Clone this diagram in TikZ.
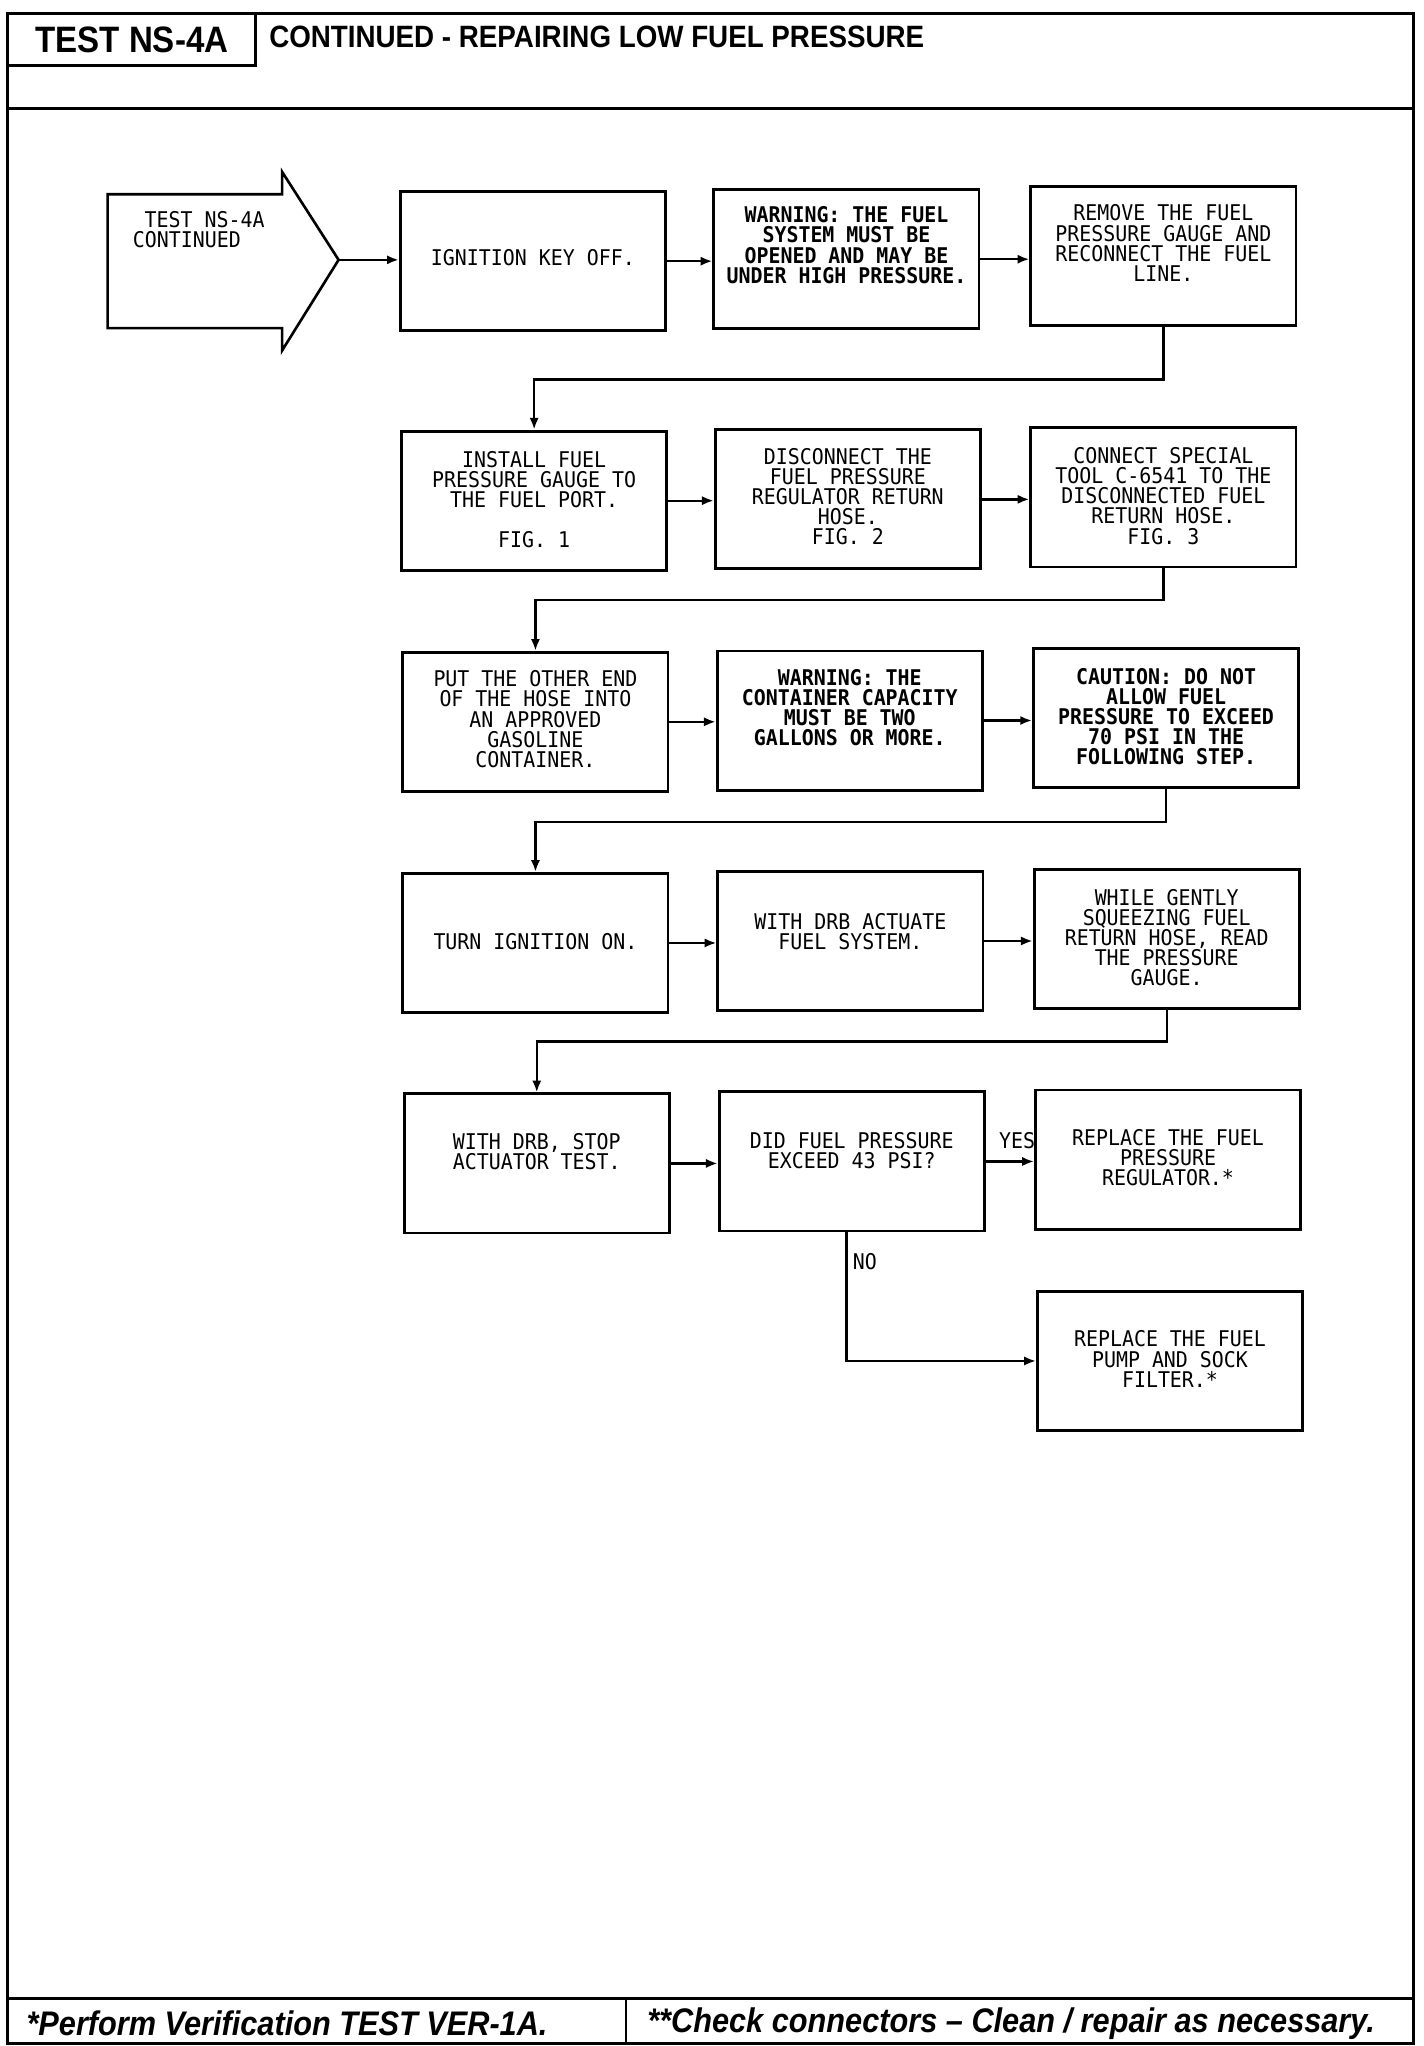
\documentclass[tikz,border=0pt]{standalone}
\usepackage{fontspec}
\newfontfamily\plotfont[FakeStretch=0.92]{DejaVu Sans Mono}
\newfontfamily\headfont[FakeStretch=0.9]{Liberation Sans}
\usetikzlibrary{positioning, arrows.meta}

\begin{document}
\begin{tikzpicture}[x=1pt, y=1pt,
    frame/.style={line width=2.2pt},
    stepbox/.style={rectangle, draw, line width=2.2pt, minimum width=202pt, minimum height=106pt, inner sep=0pt},
    steptext/.style={align=center, inner sep=0pt, font={\plotfont\fontsize{16.5}{15.3}\selectfont}},
    warntext/.style={steptext, font={\plotfont\bfseries\fontsize{16.5}{15.3}\selectfont}},
    arr/.style={line width=1.8pt, -{Latex[length=9pt, width=7pt]}}]
    \useasboundingbox (0,0) rectangle (1085,-1559);

    % page frame, header and footer
    \draw[frame] (6,-10) rectangle (1077,-1557);
    \draw[frame] (6,-83) -- (1077,-83);
    \draw[frame] (6,-1523) -- (1077,-1523);
    \draw[frame] (477,-1523) -- (477,-1557);
    \node[rectangle, draw, line width=2.2pt, minimum width=189pt, minimum height=40pt, inner sep=0pt,
        font={\headfont\bfseries\fontsize{28}{30}\selectfont}] at (100.5,-30) (testid) {TEST NS-4A};
    \node[anchor=west, inner sep=0pt, font={\headfont\bfseries\fontsize{23.5}{26}\selectfont}]
        at (205,-28) (title) {CONTINUED - REPAIRING LOW FUEL PRESSURE};
    \node[anchor=west, inner sep=0pt, font={\headfont\bfseries\itshape\fontsize{26}{28}\selectfont}]
        at (20,-1542) (noteone) {*Perform Verification TEST VER-1A.};
    \node[anchor=west, inner sep=0pt, font={\headfont\bfseries\itshape\fontsize{26}{28}\selectfont}]
        at (493,-1542) (notetwo) {**Check connectors – Clean / repair as necessary.};

    % entry arrow
    \draw[line width=2pt] (82,-148) -- (215,-148) -- (215,-131) -- (258,-198) -- (215,-267)
        -- (215,-250) -- (82,-250) -- cycle;
    \coordinate (start) at (258,-198);
    \node[steptext, align=left, anchor=north west] at (101,-161) (startlbl) {\hspace*{9pt}TEST NS-4A\\CONTINUED};

    % step boxes
    \node[stepbox] at (406,-199)   (a1) {};
    \node[stepbox] at (645,-197.5) (a2) {};
    \node[stepbox] at (886.5,-195) (a3) {};
    \node[stepbox] at (407,-381.5) (b1) {};
    \node[stepbox] at (646,-380.5) (b2) {};
    \node[stepbox] at (886.5,-379) (b3) {};
    \node[stepbox] at (408,-550)   (c1) {};
    \node[stepbox] at (647.5,-549) (c2) {};
    \node[stepbox] at (888.5,-547) (c3) {};
    \node[stepbox] at (408,-718.5) (d1) {};
    \node[stepbox] at (648,-717)   (d2) {};
    \node[stepbox] at (889,-715.5) (d3) {};
    \node[stepbox] at (409,-886.5) (e1) {};
    \node[stepbox] at (649,-885)   (e2) {};
    \node[stepbox] at (890,-883.5) (e3) {};
    \node[stepbox] at (891.5,-1037) (f) {};

    \node[steptext, below=45pt of a1.north] {IGNITION KEY OFF.};
    \node[warntext, below=14pt of a2.north] {WARNING: THE FUEL\\SYSTEM MUST BE\\OPENED AND MAY BE\\UNDER HIGH PRESSURE.};
    \node[steptext, below=15pt of a3.north] {REMOVE THE FUEL\\PRESSURE GAUGE AND\\RECONNECT THE FUEL\\LINE.};
    \node[steptext, below=16pt of b1.north] {INSTALL FUEL\\PRESSURE GAUGE TO\\THE FUEL PORT.\\[15.3pt]FIG. 1};
    \node[steptext, below=15pt of b2.north] {DISCONNECT THE\\FUEL PRESSURE\\REGULATOR RETURN\\HOSE.\\FIG. 2};
    \node[steptext, below=16pt of b3.north] {CONNECT SPECIAL\\TOOL C-6541 TO THE\\DISCONNECTED FUEL\\RETURN HOSE.\\FIG. 3};
    \node[steptext, below=15pt of c1.north] {PUT THE OTHER END\\OF THE HOSE INTO\\AN APPROVED\\GASOLINE\\CONTAINER.};
    \node[warntext, below=15pt of c2.north] {WARNING: THE\\CONTAINER CAPACITY\\MUST BE TWO\\GALLONS OR MORE.};
    \node[warntext, below=16pt of c3.north] {CAUTION: DO NOT\\ALLOW FUEL\\PRESSURE TO EXCEED\\70 PSI IN THE\\FOLLOWING STEP.};
    \node[steptext, below=47pt of d1.north] {TURN IGNITION ON.};
    \node[steptext, below=33pt of d2.north] {WITH DRB ACTUATE\\FUEL SYSTEM.};
    \node[steptext, below=16pt of d3.north] {WHILE GENTLY\\SQUEEZING FUEL\\RETURN HOSE, READ\\THE PRESSURE\\GAUGE.};
    \node[steptext, below=31pt of e1.north] {WITH DRB, STOP\\ACTUATOR TEST.};
    \node[steptext, below=32pt of e2.north] {DID FUEL PRESSURE\\EXCEED 43 PSI?};
    \node[steptext, below=31pt of e3.north] {REPLACE THE FUEL\\PRESSURE\\REGULATOR.*};
    \node[steptext, below=31pt of f.north] {REPLACE THE FUEL\\PUMP AND SOCK\\FILTER.*};

    % connectors
    \draw[arr] (start) -- (start -| a1.west);
    \foreach \p/\q in {a1/a2, a2/a3, b1/b2, b2/b3, c1/c2, c2/c3, d1/d2, d2/d3, e1/e2, e2/e3}
        \draw[arr] (\p.east) -- (\p.east -| \q.west);
    \draw[arr] (a3.south) -- ++(0,-40) -| (b1.north);
    \draw[arr] (b3.south) -- ++(0,-24) -| (c1.north);
    \draw[arr] (c3.south) -- ++(0,-25) -| (d1.north);
    \draw[arr] (d3.south) -- ++(0,-24) -| (e1.north);
    \draw[arr] ([xshift=-4pt]e2.south) |- (f.west);

    \node[steptext] at (775,-869) (yes) {YES};
    \node[steptext] at (659,-961) (no) {NO};
\end{tikzpicture}
\end{document}
